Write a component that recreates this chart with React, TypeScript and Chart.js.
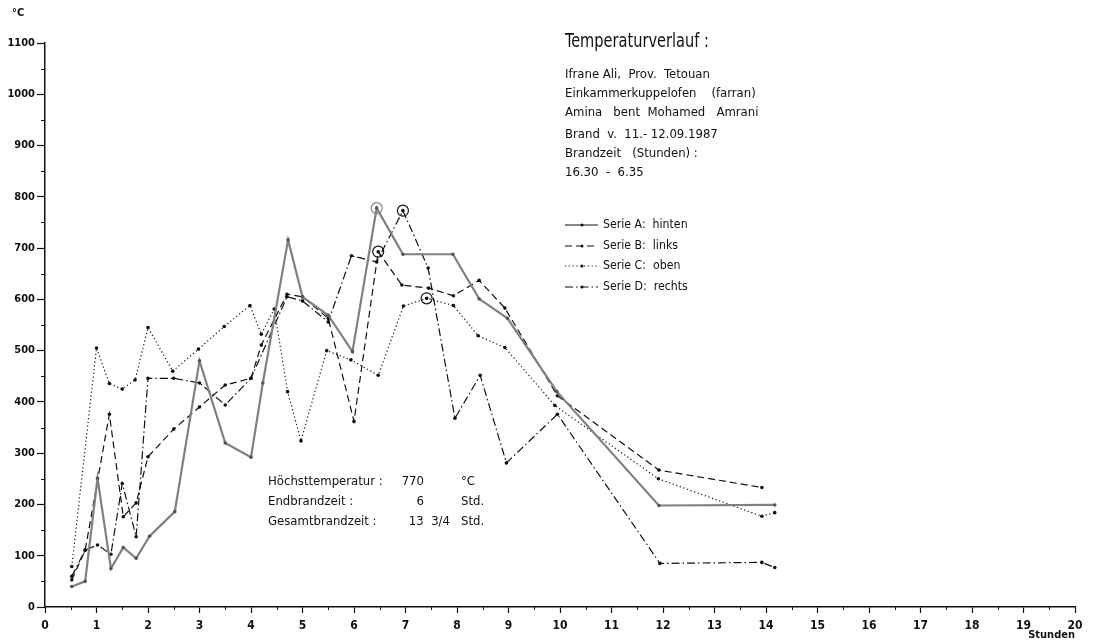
import React, { useEffect, useRef } from "react";
import { Chart, registerables } from "chart.js";

Chart.register(...registerables);

// ---- data (hours after start, °C) ----
const aHours = [0.52, 0.78, 1.02, 1.28, 1.52, 1.77, 2.03, 2.52, 3.0, 3.5, 4.0, 4.23, 4.72, 5.0, 5.5, 5.97, 6.44, 6.95, 7.92, 8.43, 8.98, 9.94, 11.92, 14.17];
const aTemps = [40, 50, 251, 75, 116, 95, 138, 186, 480, 320, 292, 437, 716, 605, 569, 498, 778, 688, 688, 601, 563, 420, 198, 199];

const bHours = [0.52, 0.78, 1.25, 1.52, 1.77, 2.0, 2.5, 3.0, 3.5, 4.0, 4.2, 4.7, 5.0, 5.5, 6.0, 6.47, 6.93, 7.45, 7.93, 8.43, 8.93, 9.95, 11.92, 13.92];
const bTemps = [53, 111, 376, 176, 203, 293, 347, 390, 433, 446, 511, 610, 605, 563, 362, 693, 628, 622, 607, 637, 583, 412, 267, 233];

const cHours = [0.52, 1.0, 1.25, 1.5, 1.75, 2.0, 2.48, 2.98, 3.48, 3.98, 4.2, 4.45, 4.71, 4.97, 5.47, 5.94, 6.47, 6.96, 7.41, 7.93, 8.41, 8.93, 9.9, 11.91, 13.92, 14.17];
const cTemps = [79, 505, 436, 425, 443, 545, 460, 503, 547, 588, 532, 581, 420, 324, 500, 482, 452, 587, 602, 588, 529, 506, 393, 250, 177, 184];

const dHours = [0.52, 0.78, 1.02, 1.28, 1.5, 1.77, 2.0, 2.5, 3.0, 3.5, 4.0, 4.7, 5.0, 5.5, 5.95, 6.44, 6.95, 7.44, 7.96, 8.45, 8.96, 9.95, 11.94, 13.92, 14.17];
const dTemps = [60, 111, 121, 103, 241, 137, 446, 446, 437, 394, 446, 605, 597, 556, 685, 673, 773, 661, 368, 452, 281, 376, 85, 87, 77];

// circled peak points: [series index, point index]
const circled = [[0, 16], [1, 15], [2, 18], [3, 16]];

const seriesLabels = ["Serie A:  hinten", "Serie B:  links", "Serie C:  oben", "Serie D:  rechts"];
const infoLines = [
  "Ifrane Ali,  Prov.  Tetouan",
  "Einkammerkuppelofen    (farran)",
  "Amina   bent  Mohamed   Amrani",
  "Brand  v.  11.- 12.09.1987",
  "Brandzeit   (Stunden) :",
  "16.30  -  6.35",
];
const titleText = "Temperaturverlauf :";
const summaryLabels = ["Höchsttemperatur :", "Endbrandzeit :", "Gesamtbrandzeit :"];
const summaryValues = ["770", "6", "13  3/4"];
const summaryUnits = ["°C", "Std.", "Std."];

const FONT = "'DejaVu Sans Condensed', 'Liberation Sans Narrow', 'DejaVu Sans', sans-serif";
const INK = "#111111";
const GRAY = "#808080";

const styles = [
  { color: GRAY, width: 2.2, dash: [] as number[] },
  { color: INK, width: 1.2, dash: [7, 4] },
  { color: INK, width: 1.2, dash: [1.2, 2.6] },
  { color: INK, width: 1.2, dash: [8, 3, 1.5, 3] },
];

function squeezed(ctx: CanvasRenderingContext2D, text: string, x: number, y: number, sx: number) {
  ctx.save();
  ctx.translate(x, y);
  ctx.scale(sx, 1);
  ctx.fillText(text, 0, 0);
  ctx.restore();
}

const textPlugin = {
  id: "texts",
  afterDraw(chart: any) {
    const ctx = chart.ctx as CanvasRenderingContext2D;
    const xs = chart.scales.x;
    const ys = chart.scales.y;
    ctx.save();
    // minor ticks
    ctx.strokeStyle = INK;
    ctx.lineWidth = 1;
    for (let v = 50; v < 1100; v += 100) {
      const py = Math.round(ys.getPixelForValue(v)) + 0.5;
      ctx.beginPath();
      ctx.moveTo(xs.left - 4, py);
      ctx.lineTo(xs.left, py);
      ctx.stroke();
    }
    for (let h = 0.5; h < 20; h += 1) {
      const px = Math.round(xs.getPixelForValue(h)) + 0.5;
      ctx.beginPath();
      ctx.moveTo(px, ys.bottom);
      ctx.lineTo(px, ys.bottom + 3);
      ctx.stroke();
    }
    // circles around peaks
    ctx.lineWidth = 1.2;
    ctx.setLineDash([]);
    circled.forEach(([s, i]) => {
      const el = chart.getDatasetMeta(s).data[i];
      ctx.strokeStyle = s === 0 ? GRAY : INK;
      ctx.beginPath();
      ctx.arc(el.x, el.y, 5.5, 0, Math.PI * 2);
      ctx.stroke();
    });

    ctx.fillStyle = INK;
    ctx.textBaseline = "middle";
    ctx.textAlign = "left";
    // unit
    ctx.font = `bold 11px ${FONT}`;
    ctx.fillText("°C", 12, 13);
    // title
    ctx.font = `20px ${FONT}`;
    squeezed(ctx, titleText, 565, 42, 0.81);
    // info
    ctx.font = `13px ${FONT}`;
    const infoY = [75, 94, 113, 135, 154, 173];
    infoLines.forEach((t, i) => ctx.fillText(t, 565, infoY[i]));
    // legend
    const legY = [225, 246, 266, 287];
    seriesLabels.forEach((t, i) => {
      const st = styles[i];
      ctx.strokeStyle = INK;
      ctx.lineWidth = 1;
      ctx.setLineDash(st.dash);
      ctx.beginPath();
      ctx.moveTo(565, legY[i]);
      ctx.lineTo(598, legY[i]);
      ctx.stroke();
      ctx.setLineDash([]);
      ctx.beginPath();
      ctx.arc(582, legY[i], 1.5, 0, Math.PI * 2);
      ctx.fill();
      squeezed(ctx, t, 603, legY[i], 0.94);
    });
    // summary
    const sumY = [482, 502, 522];
    summaryLabels.forEach((t, i) => {
      ctx.textAlign = "left";
      ctx.fillText(t, 268, sumY[i]);
      ctx.textAlign = "right";
      ctx.fillText(summaryValues[i], i === 2 ? 450 : 424, sumY[i]);
      ctx.textAlign = "left";
      ctx.fillText(summaryUnits[i], 461, sumY[i]);
    });
    ctx.restore();
  },
};

function toPoints(h: number[], t: number[]) {
  return h.map((x, i) => ({ x, y: t[i] }));
}

export default function App() {
  const ref = useRef<HTMLCanvasElement | null>(null);
  useEffect(() => {
    if (!ref.current) return;
    const series = [
      toPoints(aHours, aTemps),
      toPoints(bHours, bTemps),
      toPoints(cHours, cTemps),
      toPoints(dHours, dTemps),
    ];
    const chart = new Chart(ref.current, {
      type: "line",
      data: {
        datasets: series.map((data, i) => ({
          label: seriesLabels[i],
          data,
          borderColor: styles[i].color,
          borderWidth: styles[i].width,
          borderDash: styles[i].dash,
          pointRadius: 1.8,
          pointBorderWidth: 0,
          pointBackgroundColor: i === 0 ? "#555" : INK,
          tension: 0,
          fill: false,
        })),
      },
      options: {
        animation: false,
        responsive: false,
        maintainAspectRatio: false,
        layout: { padding: { top: 43, right: 24, left: 0, bottom: 0 } },
        plugins: { legend: { display: false }, tooltip: { enabled: false } },
        scales: {
          x: {
            type: "linear",
            min: 0,
            max: 20,
            afterFit: (s: any) => { s.height = 34; },
            border: { display: true, color: INK, width: 1.5 },
            grid: { drawOnChartArea: false, drawTicks: true, tickLength: 6, tickColor: INK, tickWidth: 1.2 },
            ticks: { stepSize: 1, padding: 6, color: INK, maxRotation: 0, autoSkip: false, callback: (v: any) => String(v), font: { family: FONT, size: 12, weight: "bold" } },
            title: { display: true, text: "Stunden", align: "end", color: INK, padding: { top: 0, bottom: -1 }, font: { family: FONT, size: 11, weight: "bold" } },
          },
          y: {
            min: 0,
            max: 1100,
            afterFit: (s: any) => { s.width = 45; },
            border: { display: true, color: INK, width: 1.5 },
            grid: { drawOnChartArea: false, drawTicks: true, tickLength: 8, tickColor: INK, tickWidth: 1.2 },
            ticks: { stepSize: 100, padding: 2, color: INK, callback: (v: any) => String(v), font: { family: FONT, size: 11, weight: "bold" } },
          },
        },
      },
      plugins: [textPlugin],
    });
    return () => chart.destroy();
  }, []);
  return (
    <div style={{ position: "fixed", left: 0, top: 0, width: 1099, height: 641, background: "#fff" }}>
      <canvas ref={ref} width={1099} height={641} />
    </div>
  );
}
